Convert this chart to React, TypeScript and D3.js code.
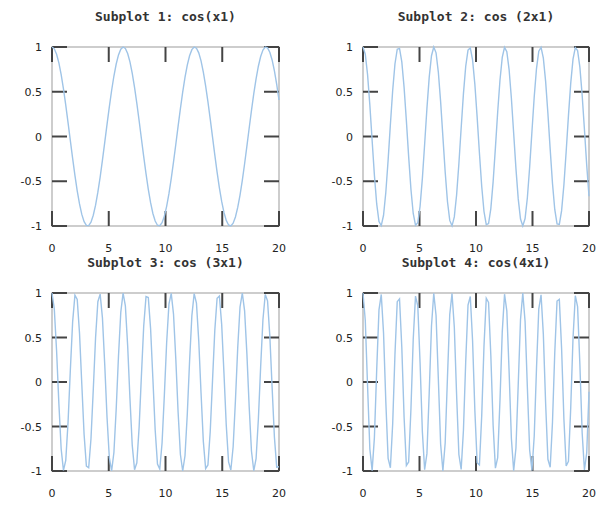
import React from "react";
import * as d3 from "d3";

// ---- data ----
const titles = [
  "Subplot 1: cos(x1)",
  "Subplot 2: cos (2x1)",
  "Subplot 3: cos (3x1)",
  "Subplot 4: cos(4x1)",
];
const frequencies = [1, 2, 3, 4];
const xDomain = [0, 20];
const yDomain = [-1, 1];
const sampleCount = 100; // linspace(0, 20, 100)
const xTicks = [0, 5, 10, 15, 20];
const yTicks = [-1, -0.5, 0, 0.5, 1];

const xs = d3.range(sampleCount).map((i) => (i * (xDomain[1] - xDomain[0])) / (sampleCount - 1) + xDomain[0]);
const seriesList = frequencies.map((k) => xs.map((x) => ({ x, y: Math.cos(k * x) })));

// ---- layout ----
const W = 605;
const H = 511;
const boxes = [
  { x0: 52, x1: 279, y0: 47, y1: 226 },
  { x0: 363, x1: 589, y0: 47, y1: 226 },
  { x0: 52, x1: 279, y0: 293, y1: 471 },
  { x0: 363, x1: 589, y0: 293, y1: 471 },
];

const TICK = 15;
const tickColor = "#444";
const boxColor = "#bdbdbd";
const lineColor = "#9fc4e7";
const labelFont = "'DejaVu Sans', sans-serif";

function Panel({ idx }: { idx: number }) {
  const b = boxes[idx];
  const x = d3.scaleLinear().domain(xDomain).range([b.x0, b.x1]);
  const y = d3.scaleLinear().domain(yDomain).range([b.y1, b.y0]);
  const line = d3
    .line<{ x: number; y: number }>()
    .x((d) => x(d.x))
    .y((d) => y(d.y));
  return (
    <g>
      <text
        x={(b.x0 + b.x1) / 2}
        y={b.y0 - 26}
        textAnchor="middle"
        fontFamily="'DejaVu Sans Mono', monospace"
        fontWeight="bold"
        fontSize={13}
        fill="#333"
      >
        {titles[idx]}
      </text>
      <rect
        x={b.x0}
        y={b.y0}
        width={b.x1 - b.x0}
        height={b.y1 - b.y0}
        fill="none"
        stroke={boxColor}
        strokeWidth={1.5}
      />
      {xTicks.map((t) => (
        <g key={"xt" + t}>
          <line x1={x(t)} x2={x(t)} y1={b.y1} y2={b.y1 - TICK} stroke={tickColor} strokeWidth={2} />
          <line x1={x(t)} x2={x(t)} y1={b.y0} y2={b.y0 + TICK} stroke={tickColor} strokeWidth={2} />
          <text
            x={x(t)}
            y={b.y1 + 26}
            textAnchor="middle"
            fontFamily={labelFont}
            fontSize={11}
            fill="#222"
          >
            {t}
          </text>
        </g>
      ))}
      {yTicks.map((t) => (
        <g key={"yt" + t}>
          <line x1={b.x0} x2={b.x0 + TICK} y1={y(t)} y2={y(t)} stroke={tickColor} strokeWidth={2} />
          <line x1={b.x1} x2={b.x1 - TICK} y1={y(t)} y2={y(t)} stroke={tickColor} strokeWidth={2} />
          <text
            x={b.x0 - 10}
            y={y(t) + 4}
            textAnchor="end"
            fontFamily={labelFont}
            fontSize={11}
            fill="#222"
          >
            {String(t)}
          </text>
        </g>
      ))}
      <path d={line(seriesList[idx]) || ""} fill="none" stroke={lineColor} strokeWidth={1.4} />
    </g>
  );
}

export default function App() {
  return (
    <svg
      width={W}
      height={H}
      style={{ position: "absolute", left: 0, top: 0, background: "#fff" }}
    >
      <rect x={0} y={0} width={W} height={H} fill="#fff" />
      {boxes.map((_, i) => (
        <Panel key={i} idx={i} />
      ))}
    </svg>
  );
}
